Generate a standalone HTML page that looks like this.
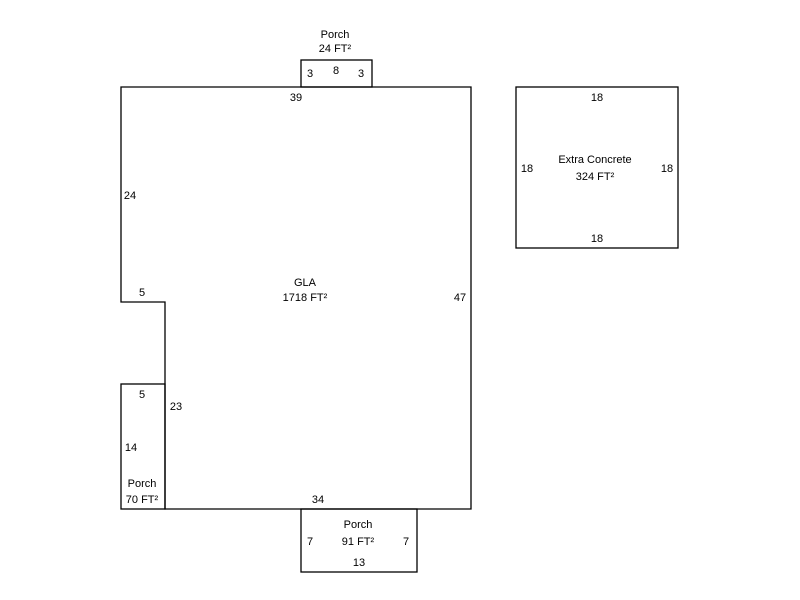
<!DOCTYPE html>
<html><head><style>html,body{margin:0;padding:0;background:#fff;}svg{display:block}</style></head>
<body>
<svg width="800" height="600" xmlns="http://www.w3.org/2000/svg" font-family="Liberation Sans, Arial, sans-serif" font-size="11" fill="#000">
<g fill="none" stroke="#000" stroke-width="1.3">
<rect x="301" y="60" width="71" height="27"/>
<path d="M121,302 L121,87 L471,87 L471,509 L165,509 L165,302 Z"/>
<rect x="121" y="384" width="44" height="125"/>
<rect x="301" y="509" width="116" height="63"/>
<rect x="516" y="87" width="162" height="161"/>
</g>
<g text-anchor="middle">
<text x="335" y="38">Porch</text>
<text x="335" y="52">24 FT²</text>
<text x="310" y="77">3</text>
<text x="336" y="74">8</text>
<text x="361" y="77">3</text>
<text x="296" y="101">39</text>
<text x="130" y="199">24</text>
<text x="142" y="296">5</text>
<text x="305" y="286">GLA</text>
<text x="305" y="301">1718 FT²</text>
<text x="460" y="301">47</text>
<text x="142" y="398">5</text>
<text x="176" y="410">23</text>
<text x="131" y="451">14</text>
<text x="142" y="487">Porch</text>
<text x="142" y="503">70 FT²</text>
<text x="318" y="503">34</text>
<text x="358" y="528">Porch</text>
<text x="310" y="545">7</text>
<text x="358" y="545">91 FT²</text>
<text x="406" y="545">7</text>
<text x="359" y="566">13</text>
<text x="597" y="101">18</text>
<text x="527" y="172">18</text>
<text x="595" y="163">Extra Concrete</text>
<text x="595" y="180">324 FT²</text>
<text x="667" y="172">18</text>
<text x="597" y="242">18</text>
</g>
</svg>
</body></html>
